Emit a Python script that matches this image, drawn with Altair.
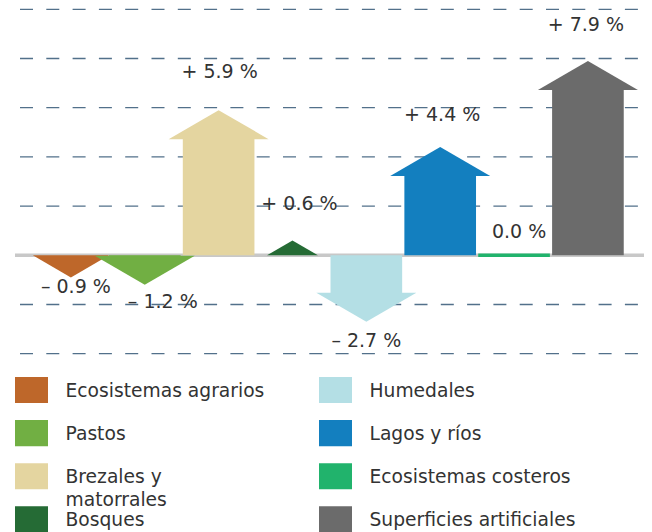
import altair as alt
import pandas as pd

# ---------------- data ----------------
categories = [
    "Ecosistemas agrarios", "Pastos", "Brezales y matorrales", "Bosques",
    "Humedales", "Lagos y ríos", "Ecosistemas costeros", "Superficies artificiales",
]
values = [-0.9, -1.2, 5.9, 0.6, -2.7, 4.4, 0.0, 7.9]
value_labels = ["– 0.9 %", "– 1.2 %", "+ 5.9 %", "+ 0.6 %", "– 2.7 %", "+ 4.4 %", "0.0 %", "+ 7.9 %"]
legend_labels = [
    "Ecosistemas agrarios", "Pastos", "Brezales y\nmatorrales", "Bosques",
    "Humedales", "Lagos y ríos", "Ecosistemas costeros", "Superficies artificiales",
]
colors = ["#be672a", "#71af43", "#e4d5a0", "#256b35", "#b4dfe5", "#137fbf", "#21b36c", "#6b6b6b"]
grid_values = [-4, -2, 2, 4, 6, 8, 10]

# ---------------- layout / style constants ----------------
W, H = 636, 524
PX_PER_PCT = 24.6
ZERO_Y = 247.3
X0, STEP = 62.9, 73.86
BODY_HALF = 0.485
HEAD_LEN = 1.18
HEAD_PX_HALF = 50          # half width of a full arrow head, px
FONT = "DejaVu Sans"
FS = 19
LFS = 18.7
TXT = "#333333"
# label placement nudges (px, right / down) for labels that the original shifts by hand
NUDGE = {0: (5, -10), 1: (18, -3), 2: (1, -1), 3: (7, 0), 5: (2, 5), 6: (5, 0), 7: (-2, 1)}

ylo = (ZERO_Y - H) / PX_PER_PCT
yhi = ylo + H / PX_PER_PCT
xlo = -X0 / STEP
xhi = xlo + W / STEP
xs = alt.Scale(domain=[xlo, xhi], nice=False, zero=False)
ys = alt.Scale(domain=[ylo, yhi], nice=False, zero=False)
color_scale = alt.Scale(domain=categories, range=colors)

UP = "M-1,0L0,-0.58L1,0Z"
DOWN = "M-1,0L0,0.58L1,0Z"

# ---------------- derived tables ----------------
body_rows, head_rows, zero_rows, label_rows = [], [], [], []
for i, (c, v, lab) in enumerate(zip(categories, values, value_labels)):
    s = 1 if v > 0 else -1
    if abs(v) > HEAD_LEN:
        body_rows.append(dict(cat=c, x=i - BODY_HALF, x2=i + BODY_HALF, y=0, y2=v - s * (HEAD_LEN - 0.06)))
    if v != 0:
        h = min(abs(v), HEAD_LEN)
        head_rows.append(dict(cat=c, x=i, y=v - s * h, dir="up" if v > 0 else "down", sz=(h / HEAD_LEN) ** 2))
    else:
        zero_rows.append(dict(cat=c, x=i - BODY_HALF, x2=i + BODY_HALF, y=0))
    ly = v + 1.5 if v > 0 else (v - 0.8 if v < 0 else 0.95)
    ndx, ndy = NUDGE.get(i, (0, 0))
    label_rows.append(dict(cat=c, x=i + ndx / STEP, y=ly - ndy / PX_PER_PCT, label=lab))

body_df = pd.DataFrame(body_rows)
head_df = pd.DataFrame(head_rows)
zero_df = pd.DataFrame(zero_rows)
label_df = pd.DataFrame(label_rows)
grid_df = pd.DataFrame({"y": grid_values})
zline_df = pd.DataFrame({"y": [0]})

X = lambda f: alt.X(f, scale=xs, axis=None)
Y = lambda f: alt.Y(f, scale=ys, axis=None)
COL = alt.Color("cat:N", scale=color_scale, legend=None)

grid = alt.Chart(grid_df).mark_rule(color="#52708a", strokeWidth=1.3, strokeDash=[13, 13.3]).encode(
    y=Y("y:Q"), x=alt.value(12), x2=alt.value(W)
)
zline = alt.Chart(zline_df).mark_rule(color="#c8c8c8", strokeWidth=3.5).encode(
    y=Y("y:Q"), x=alt.value(7), x2=alt.value(W)
)
bodies = alt.Chart(body_df).mark_rect().encode(
    x=X("x:Q"), x2="x2:Q", y=Y("y:Q"), y2="y2:Q", color=COL
)
heads = alt.Chart(head_df).mark_point(filled=True, opacity=1, strokeWidth=0).encode(
    x=X("x:Q"), y=Y("y:Q"), color=COL,
    shape=alt.Shape("dir:N", scale=alt.Scale(domain=["up", "down"], range=[UP, DOWN]), legend=None),
    size=alt.Size("sz:Q", scale=alt.Scale(domain=[0, 1], range=[0, (2 * HEAD_PX_HALF) ** 2]), legend=None),
)
zero_mark = alt.Chart(zero_df).mark_rule(strokeWidth=3.5).encode(
    x=X("x:Q"), x2="x2:Q", y=Y("y:Q"), color=COL
)
labels = alt.Chart(label_df).mark_text(font=FONT, fontSize=FS, color=TXT, baseline="middle").encode(
    x=X("x:Q"), y=Y("y:Q"), text="label:N"
)
arrows = alt.layer(grid, zline, bodies, heads, zero_mark, labels)

# ---------------- legend ----------------
leg_df = pd.DataFrame({
    "cat": categories,
    "label": legend_labels,
    "col": [i // 4 for i in range(len(categories))],
    "row": [i % 4 for i in range(len(categories))],
})
LX0, LSTEP = 23.5, 304
LY0, LROW = 382, 43.1
lxs = alt.Scale(domain=[-LX0 / LSTEP, -LX0 / LSTEP + W / LSTEP], nice=False, zero=False)
lys = alt.Scale(domain=[-LY0 / LROW, -LY0 / LROW + H / LROW], nice=False, zero=False, reverse=True)

sym = alt.Chart(leg_df).mark_point(
    shape="M-1,-0.79H1V0.79H-1Z", filled=True, size=1089, opacity=1, strokeWidth=0
).encode(
    x=alt.X("col:Q", scale=lxs, axis=None), y=alt.Y("row:Q", scale=lys, axis=None), color=COL
)
txt = alt.Chart(leg_df).mark_text(
    font=FONT, fontSize=LFS, color=TXT, align="left", baseline="top", dx=34, dy=-8,
    lineBreak="\n", lineHeight=23
).encode(
    x=alt.X("col:Q", scale=lxs, axis=None), y=alt.Y("row:Q", scale=lys, axis=None), text="label:N"
)
legend = alt.layer(sym, txt)

chart = alt.layer(arrows, legend).resolve_scale(x="independent", y="independent").properties(
    width=W, height=H, autosize=alt.AutoSizeParams(type="none"), padding=0
).configure_view(stroke=None)

chart.save("out.html", embed_options={"renderer": "svg", "actions": False})
